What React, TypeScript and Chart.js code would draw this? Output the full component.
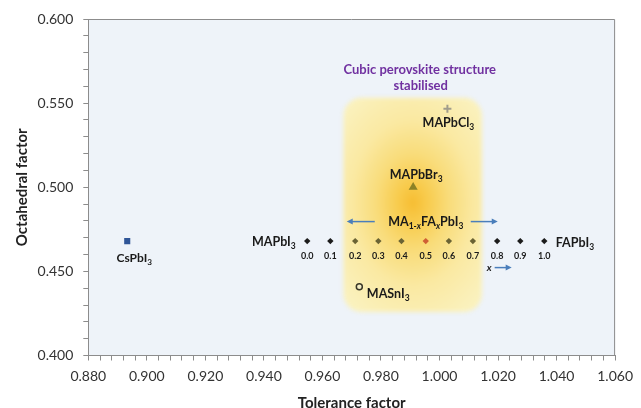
import { useEffect, useRef } from 'react';
import { Chart, registerables } from 'chart.js';

Chart.register(...registerables);

const FONT = 'Lato, "Open Sans", "DejaVu Sans", sans-serif';

// MA(1-x)FA(x)PbI3 series
const fractionLabels = ['0.0', '0.1', '0.2', '0.3', '0.4', '0.5', '0.6', '0.7', '0.8', '0.9', '1.0'];
const mixTolerance = [0.9548, 0.9627, 0.9712, 0.9791, 0.987, 0.9953, 1.0032, 1.0114, 1.0197, 1.0276, 1.0358];
const mixOctahedral = [0.468, 0.468, 0.468, 0.468, 0.468, 0.468, 0.468, 0.468, 0.468, 0.468, 0.468];
const mixColors = ['#1c1c1c', '#1c1c1c', '#6a6334', '#6a6334', '#6a6334', '#cf5f34', '#6a6334', '#6a6334', '#1c1c1c', '#1c1c1c', '#1c1c1c'];

// single compounds
const singleNames = ['CsPbI3', 'MAPbCl3', 'MAPbBr3', 'MASnI3'];
const singleTolerance = [0.8933, 1.0027, 0.991, 0.9726];
const singleOctahedral = [0.468, 0.5466, 0.5, 0.4409];

// stabilised region (tolerance range, octahedral range)
const regionTolerance = [0.9672, 1.0145];
const regionOctahedral = [0.4259, 0.5532];

const titleLines = ['Cubic perovskite structure', 'stabilised'];

type Part = [string, string];

function drawRich(ctx: CanvasRenderingContext2D, parts: Part[], x: number, y: number, size: number, align: string, color: string) {
  const fontFor = (k: string) => {
    const sub = k.includes('s');
    const it = k.includes('i');
    const sz = sub ? size * 0.68 : size;
    return `${it ? 'italic ' : ''}bold ${sz}px ${FONT}`;
  };
  let total = 0;
  const widths = parts.map(([t, k]) => {
    ctx.font = fontFor(k);
    const w = ctx.measureText(t).width;
    total += w;
    return w;
  });
  let cx = align === 'center' ? x - total / 2 : align === 'right' ? x - total : x;
  ctx.fillStyle = color;
  ctx.textBaseline = 'middle';
  ctx.textAlign = 'left';
  parts.forEach(([t, k], i) => {
    ctx.font = fontFor(k);
    ctx.fillText(t, cx, k.includes('s') ? y + size * 0.34 : y);
    cx += widths[i];
  });
}

function drawArrow(ctx: CanvasRenderingContext2D, x1: number, y: number, x2: number) {
  const dir = x2 > x1 ? 1 : -1;
  ctx.save();
  ctx.strokeStyle = '#4a7ebb';
  ctx.fillStyle = '#4a7ebb';
  ctx.lineWidth = 1.5;
  ctx.beginPath();
  ctx.moveTo(x1, y);
  ctx.lineTo(x2 - dir * 4, y);
  ctx.stroke();
  ctx.beginPath();
  ctx.moveTo(x2, y);
  ctx.lineTo(x2 - dir * 6, y - 3);
  ctx.lineTo(x2 - dir * 6, y + 3);
  ctx.closePath();
  ctx.fill();
  ctx.restore();
}

const plotBgPlugin = {
  id: 'plotBg',
  beforeDraw(chart: any) {
    const { ctx, chartArea: a } = chart;
    ctx.save();
    ctx.fillStyle = '#ffffff';
    ctx.fillRect(0, 0, chart.width, chart.height);
    ctx.fillStyle = '#eef3f9';
    ctx.fillRect(a.left, a.top, a.right - a.left, a.bottom - a.top);
    ctx.restore();
  },
  afterDraw(chart: any) {
    const { ctx, chartArea: a } = chart;
    ctx.save();
    ctx.strokeStyle = '#8c8c8c';
    ctx.lineWidth = 1;
    ctx.beginPath();
    ctx.moveTo(a.left, a.top + 0.5);
    ctx.lineTo(a.right - 0.5, a.top + 0.5);
    ctx.lineTo(a.right - 0.5, a.bottom);
    ctx.stroke();
    ctx.restore();
  },
};

const glowPlugin = {
  id: 'glow',
  beforeDatasetsDraw(chart: any) {
    const { ctx, chartArea: a, scales } = chart;
    const l = scales.x.getPixelForValue(regionTolerance[0]);
    const r = scales.x.getPixelForValue(regionTolerance[1]);
    const t = scales.y.getPixelForValue(regionOctahedral[1]);
    const b = scales.y.getPixelForValue(regionOctahedral[0]);
    const rad = 18;
    ctx.save();
    ctx.beginPath();
    ctx.rect(a.left, a.top, a.right - a.left, a.bottom - a.top);
    ctx.clip();
    ctx.filter = 'blur(2px)';
    ctx.beginPath();
    ctx.moveTo(l + rad, t);
    ctx.arcTo(r, t, r, b, rad);
    ctx.arcTo(r, b, l, b, rad);
    ctx.arcTo(l, b, l, t, rad);
    ctx.arcTo(l, t, r, t, rad);
    ctx.closePath();
    const cx = (l + r) / 2;
    const cy = t + (b - t) * 0.49;
    ctx.translate(cx, cy);
    ctx.scale(1, 1.35);
    const g = ctx.createRadialGradient(0, 0, 0, 0, 0, 95);
    g.addColorStop(0, '#f6bd32');
    g.addColorStop(0.15, '#f8cb4c');
    g.addColorStop(0.38, '#f9dc7a');
    g.addColorStop(0.65, '#fae9a2');
    g.addColorStop(1, '#faf1bd');
    ctx.fillStyle = g;
    ctx.fill();
    ctx.restore();
  },
};

const labelsPlugin = {
  id: 'labels',
  afterDatasetsDraw(chart: any) {
    const { ctx, scales } = chart;
    const px = (v: number) => scales.x.getPixelForValue(v);
    const py = (v: number) => scales.y.getPixelForValue(v);
    ctx.save();
    const dark = '#1a1a1a';
    // fraction labels
    mixTolerance.forEach((v, i) => {
      ctx.font = `bold 9px ${FONT}`;
      ctx.fillStyle = dark;
      ctx.textAlign = 'center';
      ctx.textBaseline = 'middle';
      ctx.fillText(fractionLabels[i], px(v), py(mixOctahedral[i]) + 15);
    });
    const first = { x: px(mixTolerance[0]), y: py(mixOctahedral[0]) };
    const last = { x: px(mixTolerance[10]), y: py(mixOctahedral[10]) };
    const mid = { x: px(mixTolerance[5]), y: py(mixOctahedral[5]) };
    const eight = { x: px(mixTolerance[8]), y: py(mixOctahedral[8]) };
    drawRich(ctx, [['MAPbI', ''], ['3', 's']], first.x - 11.5, first.y + 1, 12.5, 'right', dark);
    drawRich(ctx, [['FAPbI', ''], ['3', 's']], last.x + 11.5, last.y + 1.5, 12.5, 'left', dark);
    drawRich(ctx, [['MA', ''], ['1-', 's'], ['x', 'si'], ['FA', ''], ['x', 'si'], ['PbI', ''], ['3', 's']], mid.x, mid.y - 19.5, 12.5, 'center', dark);
    drawArrow(ctx, mid.x - 51, mid.y - 19.5, mid.x - 79);
    drawArrow(ctx, mid.x + 45, mid.y - 19.5, mid.x + 72);
    drawRich(ctx, [['x', 'i']], eight.x - 8, eight.y + 26.5, 10, 'center', dark);
    drawArrow(ctx, eight.x - 2.5, eight.y + 26.5, eight.x + 14.5);

    const sp = singleNames.map((_, i) => ({ x: px(singleTolerance[i]), y: py(singleOctahedral[i]) }));
    drawRich(ctx, [['CsPbI', ''], ['3', 's']], sp[0].x + 7, sp[0].y + 17, 12, 'center', dark);
    drawRich(ctx, [['MAPbCl', ''], ['3', 's']], sp[1].x + 1, sp[1].y + 14, 12.5, 'center', dark);
    drawRich(ctx, [['MAPbBr', ''], ['3', 's']], sp[2].x + 3, sp[2].y - 12.5, 12.5, 'center', dark);
    drawRich(ctx, [['MASnI', ''], ['3', 's']], sp[3].x + 7.5, sp[3].y + 7, 12.5, 'left', dark);

    // region title
    const rl = px(regionTolerance[0]);
    const rr = px(regionTolerance[1]);
    const rt = py(regionOctahedral[1]);
    ctx.font = `bold 13px ${FONT}`;
    ctx.fillStyle = '#7030a0';
    ctx.textAlign = 'center';
    ctx.textBaseline = 'middle';
    ctx.fillText(titleLines[0], (rl + rr) / 2 + 7, rt - 28);
    ctx.fillText(titleLines[1], (rl + rr) / 2 + 8, rt - 11.5);
    ctx.restore();
  },
};

export default function App() {
  const ref = useRef<HTMLCanvasElement>(null);
  useEffect(() => {
    if (!ref.current) return;
    const axisColor = '#8c8c8c';
    const chart = new Chart(ref.current, {
      type: 'scatter',
      data: {
        datasets: [
          {
            label: singleNames[0],
            data: [{ x: singleTolerance[0], y: singleOctahedral[0] }],
            pointStyle: 'rect',
            pointRadius: 4.3,
            backgroundColor: '#2f5597',
            borderColor: '#2f5597',
            borderWidth: 0,
          },
          {
            label: 'MA1-xFAxPbI3',
            data: mixTolerance.map((x, i) => ({ x, y: mixOctahedral[i] })),
            pointStyle: 'rectRot',
            pointRadius: 3.2,
            backgroundColor: mixColors,
            borderColor: mixColors,
            borderWidth: 0,
          },
          {
            label: singleNames[1],
            data: [{ x: singleTolerance[1], y: singleOctahedral[1] }],
            pointStyle: 'cross',
            pointRadius: 4,
            backgroundColor: '#a09c8c',
            borderColor: '#a09c8c',
            borderWidth: 2,
          },
          {
            label: singleNames[2],
            data: [{ x: singleTolerance[2], y: singleOctahedral[2] }],
            pointStyle: 'triangle',
            pointRadius: 5.2,
            backgroundColor: '#8c8226',
            borderColor: '#8c8226',
            borderWidth: 0,
          },
          {
            label: singleNames[3],
            data: [{ x: singleTolerance[3], y: singleOctahedral[3] }],
            pointStyle: 'circle',
            pointRadius: 3,
            backgroundColor: '#f4eec6',
            borderColor: '#3a3828',
            borderWidth: 1.5,
          },
        ],
      },
      options: {
        responsive: true,
        maintainAspectRatio: false,
        animation: false,
        events: [],
        layout: { padding: { top: 19, right: 22, left: 0, bottom: 0 } },
        plugins: { legend: { display: false }, tooltip: { enabled: false } },
        scales: {
          x: {
            type: 'linear',
            min: 0.88,
            max: 1.06,
            afterFit: (s: any) => {
              s.height = 52.5;
            },
            ticks: {
              stepSize: 0.004,
              autoSkip: false,
              maxRotation: 0,
              padding: 8,
              color: '#333333',
              font: { family: FONT, size: 14 },
              callback: (v: any) => (Math.round(Number(v) * 1000) % 20 === 0 ? Number(v).toFixed(3) : ''),
            },
            grid: { drawOnChartArea: false, drawTicks: true, tickLength: 5, color: axisColor },
            border: { display: true, color: axisColor },
            title: {
              display: true,
              text: 'Tolerance factor',
              color: '#222222',
              font: { family: FONT, size: 15, weight: 'bold' },
              padding: { top: 4, bottom: -4 },
            },
          },
          y: {
            type: 'linear',
            min: 0.4,
            max: 0.6,
            afterFit: (s: any) => {
              s.width = 88.3;
            },
            ticks: {
              stepSize: 0.01,
              autoSkip: false,
              padding: 10,
              color: '#333333',
              font: { family: FONT, size: 14 },
              callback: (v: any) => (Math.round(Number(v) * 1000) % 50 === 0 ? Number(v).toFixed(3) : ''),
            },
            grid: { drawOnChartArea: false, drawTicks: true, tickLength: 5, color: axisColor },
            border: { display: true, color: axisColor },
            title: {
              display: true,
              text: 'Octahedral factor',
              color: '#222222',
              font: { family: FONT, size: 15, weight: 'bold' },
              padding: { top: 13, bottom: 0 },
            },
          },
        },
      },
      plugins: [plotBgPlugin, glowPlugin, labelsPlugin],
    } as any);
    return () => chart.destroy();
  }, []);
  return (
    <div style={{ position: 'fixed', left: 0, top: 0, width: 641, height: 408, background: '#ffffff' }}>
      <canvas ref={ref} />
    </div>
  );
}
